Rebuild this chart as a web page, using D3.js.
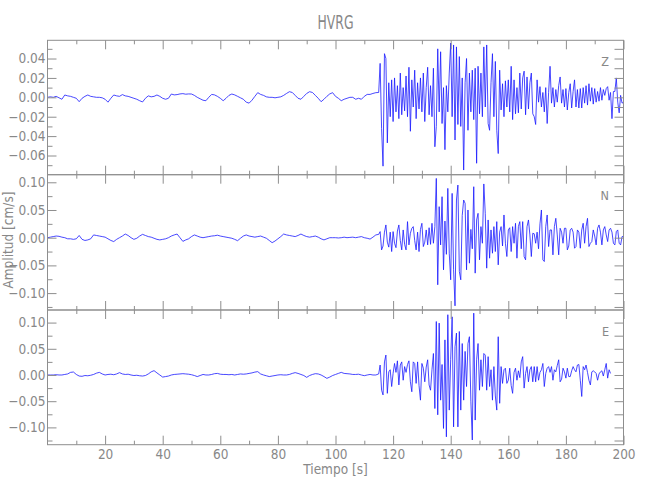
<!DOCTYPE html>
<html><head><meta charset="utf-8">
<script src="https://cdn.jsdelivr.net/npm/d3@7/dist/d3.min.js"></script>
<style>body{margin:0;background:#fff}</style>
</head><body>
<svg id="chart" width="650" height="500"></svg>
<script>
// ---------------- DATA ----------------
const title = "HVRG";
const components = ["Z", "N", "E"];
const xLabel = "Tiempo [s]";
const yLabel = "Amplitud [cm/s]";
const xDomain = [0, 200];
const xMajorTicks = [20, 40, 60, 80, 100, 120, 140, 160, 180, 200];
const xMinorTicks = [10, 30, 50, 70, 90, 110, 130, 150, 170, 190];

const zRange = [-0.0798, 0.0588];
const nRange = [-0.1305, 0.1137];
const eRange = [-0.133, 0.124];
const zMajorTicks = [-0.06, -0.04, -0.02, 0, 0.02, 0.04];
const zMinorTicks = [-0.07, -0.05, -0.03, -0.01, 0.01, 0.03, 0.05];
const neMajorTicks = [-0.10, -0.05, 0, 0.05, 0.10];
const neMinorTicks = [-0.125, -0.075, -0.025, 0.025, 0.075];

// Sampling: pre-event samples every 1 s from t=0, then every 0.5 s from t=115
const preStart = 0, preStep = 1;
const postStart = 115, postStep = 0.5;
// amplitudes in units of 1e-3 cm/s
const zPre = [
 0,0.5,0,1,-0.5,-2,2.4,1.5,1,0,
 -1,-4.5,-1,1,2.4,1,0.5,0,0,-0.5,
 -2,-5,-1,2.4,1.5,1,2.8,1.5,1,0,
 -1,-2,-3.5,-4.8,-1,1.5,0.5,1,2.4,1,
 -1,-2,-1,3.4,2.5,2.8,3.5,3.8,3.2,3.5,
 3.4,2,0,-1.5,-3,-3.5,0,3,2.5,1,
 -1,-3.5,-1,2,3.4,2.5,1,-0.5,-2,-5,
 -6,-3,1,4.8,3,2,0.5,0,0,-0.5,
 0,0.5,2,4,5.8,5,2,-1,-2,1,
 4,5.8,5,2,-1,-4.5,-2,1,3.5,4.8,
 1,-1,-3.5,-2,-1,0,0,-2,-1,-2,
 1,3,3,4,4.8];
const zPost = [
 5,35,-32,-71,45,40,-47,15,-20,18,
 -25,20,-15,12,-22,25,-18,10,-14,22,
 -20,31,-35,18,-10,28,-22,15,-12,20,
 -15,25,-25,10,31,-18,12,-20,30,-51,
 -30,50,-15,47,-27,10,-54,12,-15,25,
 56,-20,54,-44,52,-28,42,-30,20,-75,
 15,40,-34,25,-15,28,-23,30,-68,32,
 -17,25,-20,52,-10,54,-27,-34,15,45,
 -20,37,-34,-58,28,-13,14,-20,17,-10,
 18,-15,32,-23,18,-17,10,-16,25,-12,
 20,27,-18,21,-12,15,25,-17,-20,-28,
 18,-5,11,-10,5,-15,10,-27,5,32,
 -6,10,-10,8,-5,12,21,-6,8,-10,
 9,-13,5,14,-11,6,18,-10,8,-11,
 9,-11,10,-6,12,-8,14,-4,10,-7,
 9,-5,6,-4,10,-3,8,2,9,11,
 -3,5,-22,6,6,20,-5,-16,2,-6,
 -5];
const nPre = [
 0,1,2,3,2.5,1,0,-2,-2,-3,
 -2,4,-3,-5,-4,-2,5,4,3,2,
 1,-2,-5,-7,-3,0,3,6.6,4,0,
 -3,-1,3,6,4,2,1,-1,-3,-4,
 -3,-2,0,3,5,6.6,0,-6.6,-4,-2,
 2,5,3,1,0,1,2,3,3.5,4.5,
 3,2,1,0,-1,-3,-5.4,-1,3,5,
 3,2,1,2,3,1,-1,-5,-9,-6,
 -2,2,6.6,5,4,3,2,4,6.6,4,
 2,1,2,3,1,-2,-4,-2,0,0,
 0,-0.5,0,1,0,0.5,1,0,1,2,
 0,-1,-2.5,1,5];
const nPost = [
 6,11,-22,-15,10,23,-8,-17,10,-25,
 11,-10,-18,12,23,-5,-22,14,-12,-22,
 29,-13,8,17,20,-5,-22,10,-25,15,
 26,-16,-8,14,-13,18,-12,26,-10,20,
 107,-85,56,-13,74,-58,30,-30,89,-28,
 -76,80,-58,-123,68,95,-61,-76,40,68,
 62,-58,50,-46,15,-20,92,-64,32,44,
 -40,20,-10,97,44,-55,32,-37,14,-28,
 20,-25,29,-49,10,20,-15,41,-10,-34,
 14,18,-25,20,-10,26,-37,20,29,-20,
 29,-34,-40,20,32,5,-34,8,7,-10,
 10,-20,25,50,-40,-43,20,41,-16,14,
 14,-31,20,35,5,-31,17,10,-10,17,
 17,-22,-15,14,17,10,-19,-16,14,10,
 -19,14,26,-10,20,35,-16,-10,-7,14,
 3,-13,17,23,10,-13,14,20,5,-7,
 14,17,10,-10,-13,11,14,-10,-13,2,
 2];
const ePre = [
 0,0,0,0.5,0,0,1,2,5,5.7,
 1,-2,-2.5,-1,-1.5,-0.5,1,3.5,5,2,
 0,1,1.5,0.5,2,4.5,2,1,1.5,0,
 -1,-0.5,-1.5,-2,-1,2,6,8.3,4,0,
 -4,-3,-2,0,1,1.5,2,2.5,2,1.5,
 0.5,-1,-3,-1,1,0,0,1,2.5,3,
 1.5,1,1,0.5,1,0,1,2,1.5,2,
 3,4,5.5,6.4,2,0,-1.5,-3,-2,-1,
 0,0.5,0,0,1,3,4.5,3,1,-1,
 -4.5,-1,1,2.5,2,0,-3,-6.4,-4,-1,
 1,3,5,3,2.5,2,1,1,1.5,0,
 -1.3,0,1,0,0];
const ePost = [
 2,19,-29,-38,25,38,-35,6,10,-22,
 3,22,5,27,-19,19,25,-10,16,5,
 20,27,-13,-32,25,22,-16,25,-20,-48,
 22,13,-13,15,29,-19,-29,10,41,-64,
 102,-76,99,-48,20,-102,67,-118,115,-67,
 30,111,-99,54,80,-99,83,-67,60,-48,
 45,-22,60,73,-50,-124,118,-86,29,60,
 -29,29,-22,41,38,-29,35,-22,10,-48,
 16,-40,-67,73,-54,16,-16,10,13,-16,
 -10,13,-20,-35,5,13,-10,8,-5,25,
 35,-25,3,16,-13,10,16,-13,16,-13,
 16,-10,5,10,22,-22,3,13,16,5,
 16,-10,10,6,18,29,-13,-8,13,6,
 -6,13,-3,-3,8,16,10,6,19,20,
 -10,-41,16,10,19,5,-10,-19,6,8,
 6,3,-10,2,6,8,-2,10,22,-6,
 10,3];

// ---------------- LAYOUT ----------------
const plotL = 47.5, plotR = 623.5;
const bounds = [[40.3, 174.7], [174.7, 310], [310, 444.7]];
const axisColor = "#8e8e8e", textColor = "#888888", traceColor = "#1a1aff";
const font = "'Liberation Sans Narrow', 'DejaVu Sans Condensed', 'Arial Narrow', sans-serif";

const svg = d3.select("#chart");
svg.append("rect").attr("width", 650).attr("height", 500).attr("fill", "#fff");

const x = d3.scaleLinear().domain(xDomain).range([plotL, plotR]);

function series(pre, post) {
  const pts = pre.map((v, i) => ({t: preStart + i * preStep, v: v / 1000}));
  return pts.concat(post.map((v, i) => ({t: postStart + i * postStep, v: v / 1000})));
}

const panels = [
  {name: components[0], range: zRange, major: zMajorTicks, minor: zMinorTicks, data: series(zPre, zPost)},
  {name: components[1], range: nRange, major: neMajorTicks, minor: neMinorTicks, data: series(nPre, nPost)},
  {name: components[2], range: eRange, major: neMajorTicks, minor: neMinorTicks, data: series(ePre, ePost)}
];

const fmt = d => (d < 0 ? "\u2212" : "") + Math.abs(d).toFixed(2);

function styleAxis(g) {
  g.select(".domain").remove();
  g.selectAll(".tick line").attr("stroke", axisColor).attr("stroke-width", 1);
  g.selectAll(".tick text").attr("fill", textColor).attr("font-family", font).attr("font-size", 13.5);
}

panels.forEach((p, i) => {
  const [top, bottom] = bounds[i];
  const y = d3.scaleLinear().domain(p.range).range([bottom, top]);

  const cid = "clip" + i;
  svg.append("clipPath").attr("id", cid).append("rect")
    .attr("x", plotL).attr("y", top).attr("width", plotR - plotL).attr("height", bottom - top);

  const line = d3.line().x(d => x(d.t)).y(d => y(d.v));
  svg.append("path").datum(p.data)
    .attr("clip-path", `url(#${cid})`)
    .attr("fill", "none").attr("stroke", traceColor).attr("stroke-width", 0.8)
    .attr("stroke-linejoin", "round").attr("d", line);

  svg.append("g").attr("transform", `translate(${plotL},0)`)
    .call(d3.axisLeft(y).tickValues(p.major).tickSize(-9).tickPadding(2).tickFormat(fmt)).call(styleAxis);
  svg.append("g").attr("transform", `translate(${plotL},0)`)
    .call(d3.axisLeft(y).tickValues(p.minor).tickSize(-5).tickFormat("")).call(styleAxis);
  svg.append("g").attr("transform", `translate(${plotR},0)`)
    .call(d3.axisRight(y).tickValues(p.major.concat(p.minor)).tickSize(-9).tickFormat("")).call(styleAxis);
  svg.append("g").attr("transform", `translate(0,${top})`)
    .call(d3.axisTop(x).tickValues(xMajorTicks).tickSize(-9).tickFormat("")).call(styleAxis);
  svg.append("g").attr("transform", `translate(0,${top})`)
    .call(d3.axisTop(x).tickValues(xMinorTicks).tickSize(-4).tickFormat("")).call(styleAxis);
  svg.append("g").attr("transform", `translate(0,${bottom})`)
    .call(d3.axisBottom(x).tickValues(xMajorTicks).tickSize(-9).tickPadding(4.5)
      .tickFormat(i === 2 ? d3.format("d") : "")).call(styleAxis);
  svg.append("g").attr("transform", `translate(0,${bottom})`)
    .call(d3.axisBottom(x).tickValues(xMinorTicks).tickSize(-4).tickFormat("")).call(styleAxis);

  svg.append("rect").attr("x", plotL).attr("y", top).attr("width", plotR - plotL).attr("height", bottom - top)
    .attr("fill", "none").attr("stroke", axisColor).attr("stroke-width", 1);

  svg.append("text").attr("x", 609).attr("y", top + 25.5).attr("text-anchor", "end")
    .attr("font-family", font).attr("font-size", 12.5).attr("fill", textColor).text(p.name);
});

svg.append("text").attr("x", (plotL + plotR) / 2).attr("y", 29.3).attr("text-anchor", "middle")
  .attr("font-family", font).attr("font-size", 19.5).attr("fill", textColor)
  .attr("textLength", 36).attr("lengthAdjust", "spacingAndGlyphs").text(title);

svg.append("text").attr("x", (plotL + plotR) / 2).attr("y", 474).attr("text-anchor", "middle")
  .attr("font-family", font).attr("font-size", 13.5).attr("fill", textColor).text(xLabel);
svg.append("text").attr("transform", "translate(12.7,240) rotate(-90)").attr("text-anchor", "middle")
  .attr("font-family", font).attr("font-size", 13.5).attr("fill", textColor).text(yLabel);
</script>
</body></html>
